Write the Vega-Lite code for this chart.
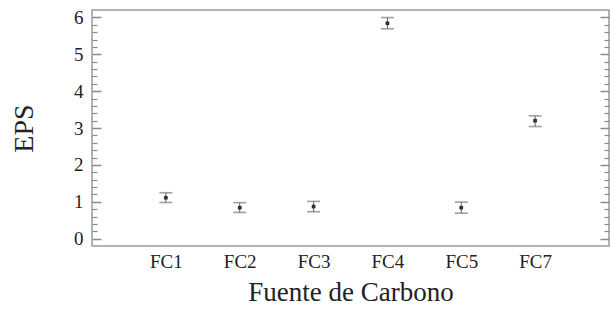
{
  "$schema": "https://vega.github.io/schema/vega-lite/v6.json",
  "width": 517,
  "height": 236,
  "autosize": "none",
  "padding": {"left": 92, "top": 10, "right": 2, "bottom": 65},
  "background": "white",
  "config": {
    "view": {"stroke": "#9a9a9a", "strokeWidth": 1.5},
    "font": "Liberation Serif",
    "axis": {"grid": false, "domain": false, "labelFont": "Liberation Serif", "titleFont": "Liberation Serif", "labelColor": "#222", "titleColor": "#222", "titleFontWeight": "normal", "tickColor": "#8a8a8a"}
  },
  "data": {
    "values": [
      {"fuente": "FC1", "eps": 1.11, "lo": 0.98, "hi": 1.245},
      {"fuente": "FC2", "eps": 0.84, "lo": 0.71, "hi": 0.975},
      {"fuente": "FC3", "eps": 0.87, "lo": 0.73, "hi": 1.01},
      {"fuente": "FC4", "eps": 5.84, "lo": 5.69, "hi": 5.995},
      {"fuente": "FC5", "eps": 0.84, "lo": 0.69, "hi": 0.99},
      {"fuente": "FC7", "eps": 3.2, "lo": 3.04, "hi": 3.33}
    ]
  },
  "encoding": {
    "x": {
      "field": "fuente", "type": "nominal",
      "scale": {"type": "point", "padding": 1.2},
      "axis": {"orient": "bottom", "ticks": false, "labelAngle": 0, "labelFontSize": 19, "labelPadding": 6, "title": "Fuente de Carbono", "titleFontSize": 27, "titlePadding": 8}
    }
  },
  "layer": [
    {
      "mark": {"type": "rule", "color": "#666", "strokeWidth": 1},
      "encoding": {
        "y": {"field": "lo", "type": "quantitative", "scale": {"domain": [-0.2, 6.2], "nice": false, "zero": false},
          "axis": {"orient": "left", "values": [0, 1, 2, 3, 4, 5, 6], "ticks": false, "labelFontSize": 19, "labelPadding": 9, "title": "EPS", "titleFontSize": 28, "titlePadding": 35}},
        "y2": {"field": "hi"}
      }
    },
    {
      "mark": {"type": "tick", "color": "#777", "thickness": 1.6, "size": 13},
      "encoding": {
        "y": {"field": "hi", "type": "quantitative", "scale": {"domain": [-0.2, 6.2], "nice": false, "zero": false},
          "axis": {"orient": "left", "values": [0, 1, 2, 3, 4, 5, 6], "labels": false, "tickSize": -9, "tickWidth": 1.5, "title": null}}
      }
    },
    {
      "mark": {"type": "tick", "color": "#777", "thickness": 1.6, "size": 13},
      "encoding": {
        "y": {"field": "lo", "type": "quantitative", "scale": {"domain": [-0.2, 6.2], "nice": false, "zero": false},
          "axis": {"orient": "left", "values": [0.2, 0.4, 0.6, 0.8, 1.2, 1.4, 1.6, 1.8, 2.2, 2.4, 2.6, 2.8, 3.2, 3.4, 3.6, 3.8, 4.2, 4.4, 4.6, 4.8, 5.2, 5.4, 5.6, 5.8], "labels": false, "tickSize": -5, "tickWidth": 1.2, "title": null}}
      }
    },
    {
      "mark": {"type": "point", "shape": "square", "filled": true, "color": "#1a1a1a", "size": 12, "opacity": 1},
      "encoding": {
        "y": {"field": "eps", "type": "quantitative", "scale": {"domain": [-0.2, 6.2], "nice": false, "zero": false},
          "axis": {"orient": "right", "values": [0, 1, 2, 3, 4, 5, 6], "labels": false, "tickSize": -9, "tickWidth": 1.5, "title": null}}
      }
    },
    {
      "mark": {"type": "point", "shape": "cross", "filled": true, "color": "#444", "size": 16, "opacity": 0.6},
      "encoding": {
        "y": {"field": "eps", "type": "quantitative", "scale": {"domain": [-0.2, 6.2], "nice": false, "zero": false},
          "axis": {"orient": "right", "values": [0.2, 0.4, 0.6, 0.8, 1.2, 1.4, 1.6, 1.8, 2.2, 2.4, 2.6, 2.8, 3.2, 3.4, 3.6, 3.8, 4.2, 4.4, 4.6, 4.8, 5.2, 5.4, 5.6, 5.8], "labels": false, "tickSize": -5, "tickWidth": 1.2, "title": null}}
      }
    }
  ],
  "resolve": {"axis": {"y": "independent"}}
}
